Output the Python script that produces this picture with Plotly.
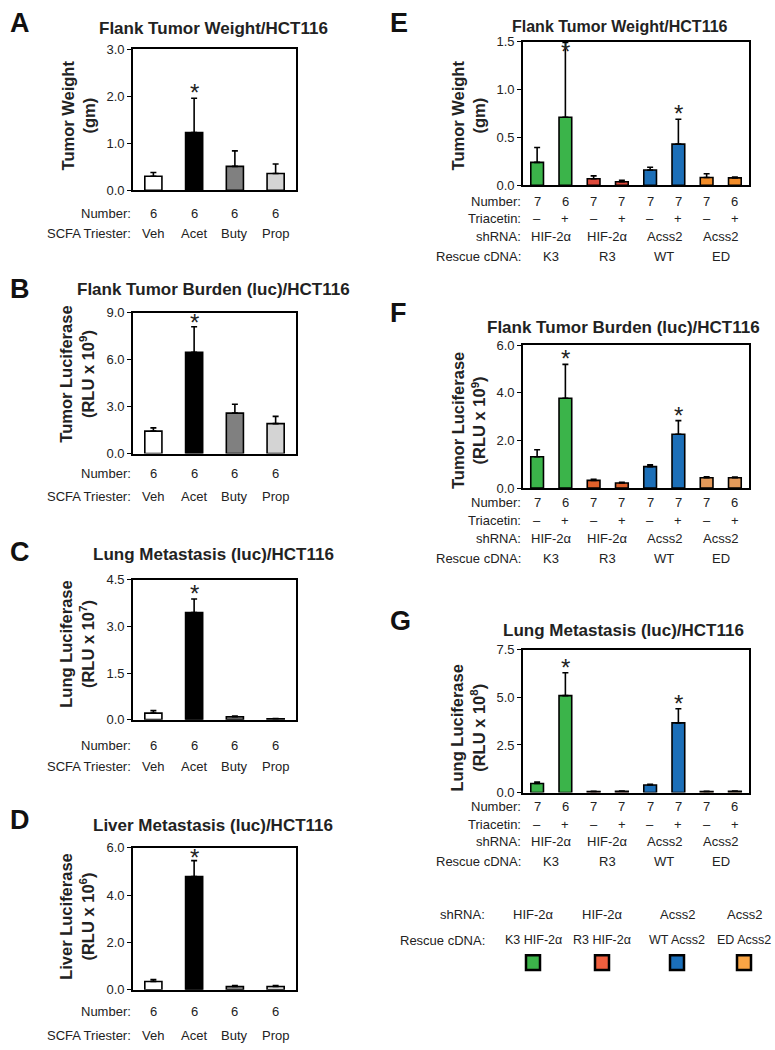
import plotly.graph_objects as go

W, H = 775, 1050
FONT = "Liberation Sans, Arial, sans-serif"

# ---------------- data ----------------
scfa_groups = ["Veh", "Acet", "Buty", "Prop"]
scfa_numbers = ["6", "6", "6", "6"]
scfa_colors = ["#ffffff", "#000000", "#808080", "#d4d4d4"]

a_vals = [0.30, 1.23, 0.51, 0.36]
a_err = [0.08, 0.73, 0.33, 0.20]
b_vals = [1.43, 6.47, 2.58, 1.91]
b_err = [0.21, 1.62, 0.57, 0.46]
c_vals = [0.21, 3.44, 0.095, 0.03]
c_err = [0.08, 0.44, 0.02, 0.01]
d_vals = [0.35, 4.78, 0.14, 0.14]
d_err = [0.08, 0.68, 0.04, 0.04]

rescue_numbers = ["7", "6", "7", "7", "7", "7", "7", "6"]
triacetin = ["\u2013", "+", "\u2013", "+", "\u2013", "+", "\u2013", "+"]
shrna = ["HIF-2\u03b1", "HIF-2\u03b1", "Acss2", "Acss2"]
rescue_cdna = ["K3", "R3", "WT", "ED"]
legend_rescue = ["K3 HIF-2\u03b1", "R3 HIF-2\u03b1", "WT Acss2", "ED Acss2"]

e_colors = ["#3bb44a", "#3bb44a", "#de4a3b", "#de4a3b", "#1c6fb8", "#1c6fb8", "#f28c28", "#f28c28"]
f_colors = ["#3bb44a", "#3bb44a", "#e0612b", "#e0612b", "#1c6fb8", "#1c6fb8", "#e49a5a", "#e49a5a"]
g_colors = e_colors
legend_colors = ["#3cb44a", "#f0603f", "#1b6fba", "#f9a545"]

e_vals = [0.24, 0.71, 0.069, 0.038, 0.16, 0.43, 0.082, 0.079]
e_err = [0.155, 0.78, 0.03, 0.015, 0.03, 0.26, 0.04, 0.008]
f_vals = [1.31, 3.77, 0.32, 0.21, 0.90, 2.26, 0.43, 0.43]
f_err = [0.30, 1.42, 0.05, 0.03, 0.07, 0.57, 0.04, 0.03]
g_vals = [0.48, 5.09, 0.05, 0.07, 0.40, 3.66, 0.05, 0.07]
g_err = [0.07, 1.20, 0.02, 0.01, 0.04, 0.74, 0.02, 0.01]

fig = go.Figure()
annotations = []
shapes = []


def px_x(p):
    return p / W


def px_y(p):
    return 1 - p / H


def add_panel(idx, letter, letter_xy, title, title_xy, title_size, ytitle, ytitle_xy,
              xdom, ydom, vals, err, colors, yticks, stars, bar_width, rows):
    n = len(vals)
    xa = "x" if idx == 1 else f"x{idx}"
    ya = "y" if idx == 1 else f"y{idx}"
    xs = list(range(n))
    fig.add_trace(go.Bar(
        x=xs, y=vals, width=bar_width, xaxis=xa, yaxis=ya,
        marker=dict(color=colors, line=dict(color="#000000", width=1.6)),
        error_y=dict(type="data", symmetric=False, array=err,
                     arrayminus=[0] * n, color="#000000", thickness=1.6, width=3),
        showlegend=False, hoverinfo="skip"))
    key = "" if idx == 1 else str(idx)
    ymax = yticks[-1]
    fig.update_layout(**{
        f"xaxis{key}": dict(domain=[px_x(xdom[0]), px_x(xdom[1])], anchor=ya,
                            range=[-0.5, n - 0.5], showticklabels=False, ticks="",
                            showline=True, linecolor="#000", linewidth=1.8, mirror=True,
                            showgrid=False, zeroline=False, fixedrange=True),
        f"yaxis{key}": dict(domain=[px_y(ydom[1]), px_y(ydom[0])], anchor=xa,
                            range=[0, ymax], tickvals=yticks, tickformat=".1f",
                            ticks="outside", ticklen=4, tickwidth=1.2, tickcolor="#000",
                            tickfont=dict(size=13, color="#222", family=FONT),
                            showline=True, linecolor="#000", linewidth=1.8, mirror=True,
                            showgrid=False, zeroline=False, fixedrange=True),
    })
    for i in stars:
        sy = min(vals[i] + err[i], ymax * 0.89)
        annotations.append(dict(x=i, y=sy, xref=xa, yref=ya,
                                text="*", showarrow=False, yanchor="bottom",
                                yshift=-10, font=dict(size=24, color="#222", family=FONT)))
    annotations.append(dict(x=px_x(letter_xy[0]), y=px_y(letter_xy[1]), xref="paper",
                            yref="paper", text=f"<b>{letter}</b>", showarrow=False,
                            xanchor="left", yanchor="middle",
                            font=dict(size=27, color="#111", family=FONT)))
    annotations.append(dict(x=px_x(title_xy[0]), y=px_y(title_xy[1]), xref="paper",
                            yref="paper", text=f"<b>{title}</b>", showarrow=False,
                            xanchor="center", yanchor="middle",
                            font=dict(size=title_size, color="#222", family=FONT)))
    annotations.append(dict(x=px_x(ytitle_xy[0]), y=px_y(ytitle_xy[1]), xref="paper",
                            yref="paper", text=ytitle, showarrow=False, textangle=-90,
                            xanchor="center", yanchor="middle",
                            font=dict(size=16.5, color="#222", family=FONT)))
    for label, items, positions, ypix in rows:
        annotations.append(dict(x=px_x(xdom[0]), y=px_y(ypix), xref="paper", yref="paper",
                                text=label, showarrow=False, xanchor="right",
                                yanchor="middle", font=dict(size=13, color="#222", family=FONT)))
        for txt, pos in zip(items, positions):
            annotations.append(dict(x=pos, y=px_y(ypix), xref=xa, yref="paper",
                                    text=txt, showarrow=False, xanchor="center",
                                    yanchor="middle", font=dict(size=13, color="#222", family=FONT)))


L_XD = (133, 296)
R_XD = (523, 749)
pos4 = [0, 1, 2, 3]
pos8 = list(range(8))
pairs = [0.5, 2.5, 4.5, 6.5]

add_panel(1, "A", (8, 16), "Flank Tumor Weight/HCT116", (213, 22), 17,
          "<b>Tumor Weight<br>(gm)</b>", (78, 110), L_XD, (43, 186),
          a_vals, a_err, scfa_colors, [0, 1, 2, 3], [1], 0.42,
          [("Number:", scfa_numbers, pos4, 209), ("SCFA Triester:", scfa_groups, pos4, 230)])
add_panel(2, "B", (8, 286), "Flank Tumor Burden (luc)/HCT116", (213, 287), 17,
          "<b>Tumor Luciferase<br>(RLU x 10<sup>9</sup>)</b>", (77, 373), L_XD, (310, 453),
          b_vals, b_err, scfa_colors, [0, 3, 6, 9], [1], 0.42,
          [("Number:", scfa_numbers, pos4, 473), ("SCFA Triester:", scfa_groups, pos4, 497)])
add_panel(3, "C", (8, 553), "Lung Metastasis (luc)/HCT116", (213, 555), 17,
          "<b>Lung Luciferase<br>(RLU x 10<sup>7</sup>)</b>", (77, 647), L_XD, (581, 723),
          c_vals, c_err, scfa_colors, [0, 1.5, 3, 4.5], [1], 0.42,
          [("Number:", scfa_numbers, pos4, 749), ("SCFA Triester:", scfa_groups, pos4, 771)])
add_panel(4, "D", (8, 825), "Liver Metastasis (luc)/HCT116", (213, 830), 17,
          "<b>Liver Luciferase<br>(RLU x 10<sup>6</sup>)</b>", (77, 923), L_XD, (853, 997),
          d_vals, d_err, scfa_colors, [0, 2, 4, 6], [1], 0.42,
          [("Number:", scfa_numbers, pos4, 1019), ("SCFA Triester:", scfa_groups, pos4, 1043)])

rows_e = [("Number:", rescue_numbers, pos8, 197), ("Triacetin:", triacetin, pos8, 215),
          ("shRNA:", shrna, pairs, 233), ("Rescue cDNA:", rescue_cdna, pairs, 253)]
rows_f = [("Number:", rescue_numbers, pos8, 503), ("Triacetin:", triacetin, pos8, 521),
          ("shRNA:", shrna, pairs, 539), ("Rescue cDNA:", rescue_cdna, pairs, 559)]
rows_g = [("Number:", rescue_numbers, pos8, 811), ("Triacetin:", triacetin, pos8, 829),
          ("shRNA:", shrna, pairs, 847), ("Rescue cDNA:", rescue_cdna, pairs, 867)]

add_panel(5, "E", (388, 16), "Flank Tumor Weight/HCT116", (620, 20), 16,
          "<b>Tumor Weight<br>(gm)</b>", (468, 110), R_XD, (35, 181),
          e_vals, e_err, e_colors, [0, 0.5, 1.0, 1.5], [1, 5], 0.45, rows_e)
add_panel(6, "F", (388, 310), "Flank Tumor Burden (luc)/HCT116", (623, 325), 17,
          "<b>Tumor Luciferase<br>(RLU x 10<sup>9</sup>)</b>", (468, 420), R_XD, (343, 488),
          f_vals, f_err, f_colors, [0, 2, 4, 6], [1, 5], 0.45, rows_f)
add_panel(7, "G", (388, 623), "Lung Metastasis (luc)/HCT116", (623, 633), 17,
          "<b>Lung Luciferase<br>(RLU x 10<sup>8</sup>)</b>", (468, 732), R_XD, (652, 797),
          g_vals, g_err, g_colors, [0, 2.5, 5.0, 7.5], [1, 5], 0.45, rows_g)

# ---------------- key at bottom right ----------------
key_x = [533, 602, 677, 744]
for lbl, ypix in [("shRNA:", 921), ("Rescue cDNA:", 947)]:
    annotations.append(dict(x=px_x(487), y=px_y(ypix), xref="paper", yref="paper",
                            text=lbl, showarrow=False, xanchor="right", yanchor="middle",
                            font=dict(size=13, color="#222", family=FONT)))
for xp, s, r, c in zip(key_x, shrna, legend_rescue, legend_colors):
    annotations.append(dict(x=px_x(xp), y=px_y(921), xref="paper", yref="paper",
                            text=s, showarrow=False, xanchor="center", yanchor="middle",
                            font=dict(size=13, color="#222", family=FONT)))
    annotations.append(dict(x=px_x(xp), y=px_y(947), xref="paper", yref="paper",
                            text=r, showarrow=False, xanchor="center", yanchor="middle",
                            font=dict(size=12.5, color="#222", family=FONT)))
    shapes.append(dict(type="rect", xref="paper", yref="paper",
                       x0=px_x(xp - 7), x1=px_x(xp + 7), y0=px_y(977), y1=px_y(962),
                       fillcolor=c, line=dict(color="#000", width=2.5)))

fig.update_layout(
    width=W, height=H, margin=dict(l=0, r=0, t=0, b=0),
    paper_bgcolor="#ffffff", plot_bgcolor="#ffffff",
    font=dict(family=FONT, color="#222"),
    annotations=annotations, shapes=shapes, showlegend=False,
)

fig.write_html("out.html", config={"displayModeBar": False},
               post_script="document.body.style.margin='0';document.body.style.padding='0';")
